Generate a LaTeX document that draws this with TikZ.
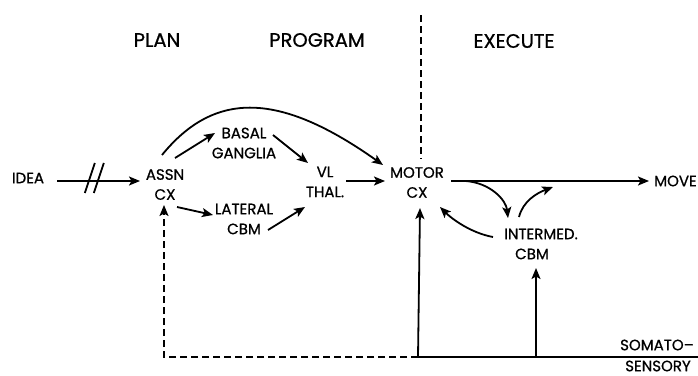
\documentclass[tikz,border=0pt]{standalone}
\usepackage{fontspec}
\setmainfont{Poppins}[FakeBold=0.8]
\usetikzlibrary{arrows.meta}
\begin{document}
\begin{tikzpicture}[x=1pt,y=-1pt,
  >={Stealth[length=11pt,width=9pt,inset=2.5pt]},
  lbl/.style={font=\fontsize{15}{20}\selectfont, align=center, inner sep=0pt},
  head/.style={font=\fontsize{19.5}{22}\selectfont, inner sep=0pt},
  link/.style={line width=1.8pt, ->},
  plain/.style={line width=1.8pt},
  fb/.style={line width=1.8pt, dash pattern=on 7pt off 4pt},
]
\useasboundingbox (0,0) rectangle (698,375);

% column headings
\node[head] (plan) at (157,40) {PLAN};
\node[head] (program) at (317,40) {PROGRAM};
\node[head] (execute) at (514,41) {EXECUTE};

% structures
\node[lbl] (idea) at (28,178) {IDEA};
\node[lbl] (assn) at (165,184.5) {ASSN\\CX};
\node[lbl] (basal) at (244,143) {BASAL\\GANGLIA};
\node[lbl] (lateral) at (244,219) {LATERAL\\CBM};
\node[lbl] (vl) at (325,182) {VL\\THAL.};
\node[lbl] (motor) at (417,182.5) {MOTOR\\CX};
\node[lbl] (intermed) at (541,244) {INTERMED.\\CBM\hspace*{18pt}};
\node[lbl,anchor=west] (move) at (654,181) {MOVE};
\node[lbl] (somato) at (657,345) {SOMATO–};
\node[lbl] (sensory) at (658,366) {SENSORY};

% helper points on the somatosensory line
\coordinate (divtop) at (421,15);
\coordinate (ssL) at (164,357);
\coordinate (ssM) at (418,357);
\coordinate (ssC) at (536,357);
\coordinate (ssR) at (698,357);

% program / execute divider
\draw[fb, line width=1.3pt] (divtop) -- ([shift={(4,-24)}]motor.center);

% idea to association cortex, with break marks
\draw[link] ([shift={(29,3)}]idea.center) -- coordinate[pos=0.45] (brk) ([shift={(-25,-3.5)}]assn.center);
\draw[plain] ([shift={(-9.5,12)}]brk) -- ++(10,-30);
\draw[plain] ([shift={(-0.5,12)}]brk) -- ++(10,-30);

% planning and programming loops
\draw[link] ([shift={(-3,-29.5)}]assn.center) .. controls +(53,-65) and +(-103,-73) .. ([shift={(-34,-17.5)}]motor.center);
\draw[link] ([shift={(10,-26.5)}]assn.center) -- ([shift={(-29,-10)}]basal.center);
\draw[link] ([shift={(12,22.5)}]assn.center) -- ([shift={(-31,-4)}]lateral.center);
\draw[link] ([shift={(29,-8)}]basal.center) -- ([shift={(-17,-19)}]vl.center);
\draw[link] ([shift={(24,11)}]lateral.center) -- ([shift={(-20,25)}]vl.center);
\draw[link] ([shift={(21,-1)}]vl.center) -- ([shift={(-32,-1.5)}]motor.center);

% execution
\draw[link] ([shift={(34,-1.5)}]motor.center) -- coordinate[pos=0.074] (tap) ([xshift=-5pt]move.west);
\draw[link] (tap) .. controls +(25,2) and +(-2,-18) .. ([shift={(-33,-26)}]intermed.center);
\draw[link] ([shift={(-22,-27)}]intermed.center) .. controls +(4,-16) and +(-16,6) .. ([shift={(12,-57)}]intermed.center);
\draw[link] ([shift={(-48,-7)}]intermed.center) .. controls +(-22,-4) and +(12,12) .. ([shift={(23,24.5)}]motor.center);

% somatosensory feedback
\draw[plain] (ssM) -- (ssR);
\draw[link] (ssM) -- ([shift={(3,25.5)}]motor.center);
\draw[link] (ssC) -- ([shift={(-5,24)}]intermed.center);
\draw[fb, ->] (ssM) -- (ssL) -- ([shift={(-1,20.5)}]assn.center);
\end{tikzpicture}
\end{document}
